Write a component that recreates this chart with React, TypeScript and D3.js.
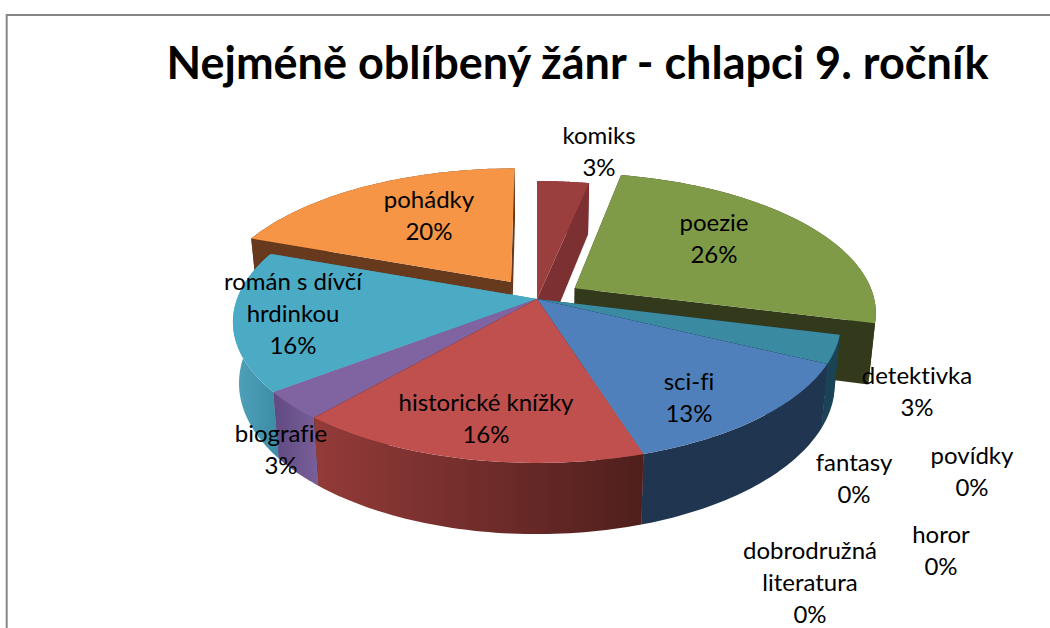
import React, { useMemo } from "react";
import * as d3 from "d3";

const titleText = "Nejméně oblíbený žánr - chlapci 9. ročník";
const categories = ["komiks", "poezie", "detektivka", "fantasy", "povídky", "horor", "dobrodružná literatura", "sci-fi", "historické knížky", "biografie", "román s dívčí hrdinkou", "pohádky"];
const answers = [1, 8, 1, 0, 0, 0, 0, 4, 5, 1, 5, 6];
const percentLabels = ["3%", "26%", "3%", "0%", "0%", "0%", "0%", "13%", "16%", "3%", "16%", "20%"];
const pulledOut = [0, 0.15, 0, 0, 0, 0, 0, 0, 0, 0, 0, 0.155];

const topColors = ["#9b3f3e", "#7f9b48", "#3a8aa2", "#000", "#000", "#000", "#000", "#4f80bc", "#bf504d", "#8064a1", "#4babc5", "#f69545"];
const wallLeft = ["#7d3031", "#333a1c", "#1a4455", "#000", "#000", "#000", "#000", "#1f3550", "#933b39", "#5f4a80", "#4fa3bb", "#673a1d"];
const wallRight = ["#7d3031", "#333a1c", "#1a4455", "#000", "#000", "#000", "#000", "#1f3550", "#4f1f1c", "#7a5f9a", "#3d8ba5", "#673a1d"];
const drawOrder = ["pohádky", "poezie", "komiks", "detektivka", "román s dívčí hrdinkou", "biografie", "sci-fi", "historické knížky"];

const labelLines: Record<string, string[]> = {
  "komiks": ["komiks"],
  "poezie": ["poezie"],
  "detektivka": ["detektivka"],
  "fantasy": ["fantasy"],
  "povídky": ["povídky"],
  "horor": ["horor"],
  "dobrodružná literatura": ["dobrodružná", "literatura"],
  "sci-fi": ["sci-fi"],
  "historické knížky": ["historické knížky"],
  "biografie": ["biografie"],
  "román s dívčí hrdinkou": ["román s dívčí", "hrdinkou"],
  "pohádky": ["pohádky"],
};
const labelAnchors: Record<string, [number, number]> = {
  "komiks": [599, 144],
  "poezie": [714, 231],
  "detektivka": [917, 384],
  "fantasy": [854, 471],
  "povídky": [972, 464],
  "horor": [941, 543],
  "dobrodružná literatura": [810, 559],
  "sci-fi": [689, 390],
  "historické knížky": [486, 411],
  "biografie": [281, 442],
  "román s dívčí hrdinkou": [293, 290],
  "pohádky": [429, 208],
};

const W = 1050, H = 628;
const cx = 537, cy = 299, A = 300, B = 137.2, persp = 0.163, depth = 59.6, lean = 0.98;
const FONT = "Lato, 'Open Sans', sans-serif";

type P = [number, number];
function project(u: number, v: number): P {
  const k = 1 + persp * v;
  return [cx + (A * u) / k, cy - (B * v) / k];
}
function projectLow(u: number, v: number): P {
  const [x, y] = project(u, v);
  return [cx + (x - cx) * lean, y + depth / (1 + persp * v)];
}

export default function App() {
  const arcs = useMemo(() => {
    const pie = d3.pie<number>().sort(null).value((d) => d);
    return pie(answers);
  }, []);
  const line = d3.line<P>();
  const STEPS = 48;

  const slices = drawOrder.map((name) => {
    const i = categories.indexOf(name);
    const a = arcs[i];
    const mid = (a.startAngle + a.endAngle) / 2;
    const ou = pulledOut[i] * Math.sin(mid);
    const ov = pulledOut[i] * Math.cos(mid);
    const rim = (t: number): [number, number] => [ou + Math.sin(t), ov + Math.cos(t)];
    const ts = d3.range(STEPS + 1).map((s) => a.startAngle + ((a.endAngle - a.startAngle) * s) / STEPS);
    const topRim = ts.map((t) => project(...rim(t)));
    const lowRim = ts.map((t) => projectLow(...rim(t)));
    const apexTop = project(ou, ov);
    const apexLow = projectLow(ou, ov);
    const top = line([apexTop, ...topRim])! + "Z";
    const rimWall = line([...topRim, ...[...lowRim].reverse()])! + "Z";
    const startFace = line([apexTop, topRim[0], lowRim[0], apexLow])! + "Z";
    const endFace = line([apexTop, topRim[STEPS], lowRim[STEPS], apexLow])! + "Z";
    const xs = [...topRim, ...lowRim].map((p) => p[0]);
    return { name, i, top, rimWall, startFace, endFace, x0: d3.min(xs)!, x1: d3.max(xs)! };
  });

  return (
    <svg
      width={W}
      height={H}
      viewBox={`0 0 ${W} ${H}`}
      style={{ position: "absolute", left: 0, top: 0, display: "block", background: "#fff", fontVariantLigatures: "none" }}
    >
      <defs>
        {slices.map((s) => (
          <linearGradient key={s.i} id={`wall${s.i}`} gradientUnits="userSpaceOnUse" x1={s.x0} x2={s.x1} y1={0} y2={0}>
            <stop offset="0" stopColor={wallLeft[s.i]} />
            <stop offset="1" stopColor={wallRight[s.i]} />
          </linearGradient>
        ))}
      </defs>
      <rect x={6.7} y={15} width={W + 20} height={H + 20} fill="#fff" stroke="#868686" strokeWidth={2} />
      <text x={577.5} y={79} textAnchor="middle" fontFamily={FONT} fontWeight={700} fontSize={45} fill="#000">
        {titleText}
      </text>
      {slices.map((s) => (
        <g key={s.i}>
          <path d={s.startFace} fill={wallLeft[s.i]} />
          <path d={s.endFace} fill={wallRight[s.i]} />
          <path d={s.rimWall} fill={`url(#wall${s.i})`} />
          <path d={s.top} fill={topColors[s.i]} />
        </g>
      ))}
      {categories.map((name, i) => {
        const [x, y] = labelAnchors[name];
        const lines = [...labelLines[name], percentLabels[i]];
        return (
          <text key={name} textAnchor="middle" fontFamily={FONT} fontSize={24} fill="#000">
            {lines.map((l, k) => (
              <tspan key={k} x={x} y={y + k * 32}>
                {l}
              </tspan>
            ))}
          </text>
        );
      })}
    </svg>
  );
}
